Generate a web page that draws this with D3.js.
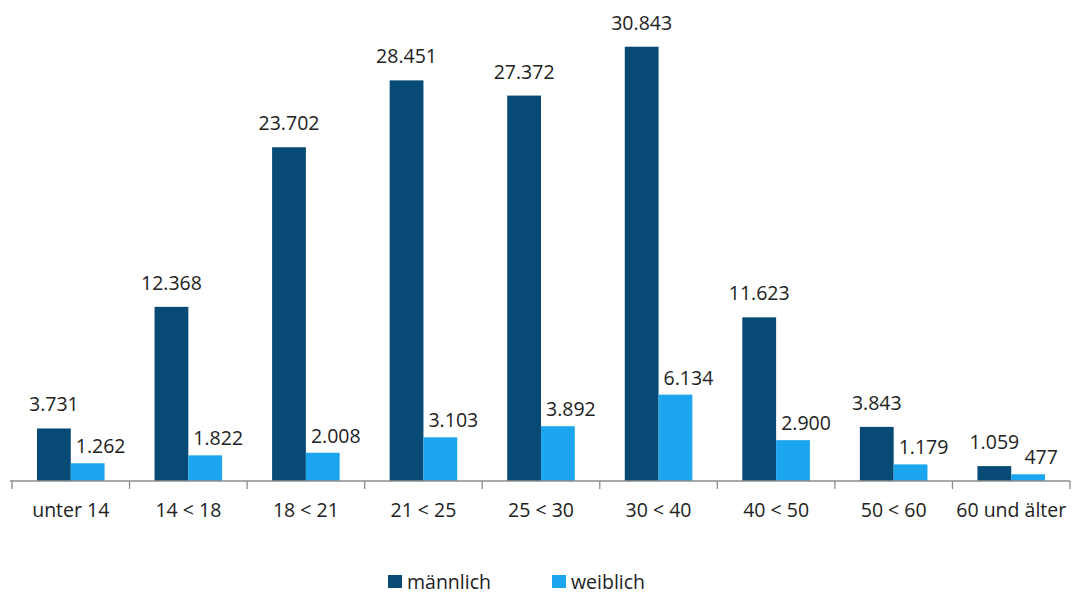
<!DOCTYPE html>
<html><head><meta charset="utf-8">
<script src="https://cdn.jsdelivr.net/npm/d3@7"></script>
<style>
body{margin:0;background:#fff;}
text{font-family:"Open Sans","Noto Sans",sans-serif;fill:#222;}
</style></head>
<body><svg id="c" width="1074" height="594"></svg>
<script>
const categories = ["unter 14","14 < 18","18 < 21","21 < 25","25 < 30","30 < 40","40 < 50","50 < 60","60 und älter"];
const seriesNames = ["männlich","weiblich"];
const maennlich = [3731,12368,23702,28451,27372,30843,11623,3843,1059];
const weiblich = [1262,1822,2008,3103,3892,6134,2900,1179,477];
const colors = ["#074a75","#1ba6ef"];

const fmt = v => d3.format(",")(v).replace(/,/g,".");
const svg = d3.select("#c");
const base = 481;
const x = d3.scaleBand().domain(categories).range([12,1070]).padding(0);
const bw = x.bandwidth();
const xs = d3.scaleBand().domain(seriesNames).range([25, bw-25]).padding(0);
const y = d3.scaleLinear().domain([0, d3.max(maennlich)]).range([base, 46.7]);

const data = categories.map((c,i)=>({c, vals:[maennlich[i], weiblich[i]]}));

const g = svg.append("g");
data.forEach(d=>{
  d.vals.forEach((v,j)=>{
    const bx = x(d.c)+xs(seriesNames[j]);
    g.append("rect").attr("x",bx).attr("y",y(v)).attr("width",xs.bandwidth()).attr("height",base-y(v)).attr("fill",colors[j]);
    g.append("text").attr("x",bx+xs.bandwidth()/2+(j===1?13:0)).attr("y",y(v)-(j===0?17:10))
      .attr("text-anchor","middle").attr("font-size",19.5).text(fmt(v));
  });
});

// axis
const ax = svg.append("g").attr("transform",`translate(0,${base})`)
  .call(d3.axisBottom(x).tickSize(0).tickPadding(20));
ax.select(".domain").remove();
ax.selectAll("text").attr("font-size",19.5).style("fill","#222").attr("dy","0.71em").attr("y",22);
svg.append("line").attr("x1",10).attr("x2",1070).attr("y1",base).attr("y2",base).attr("stroke","#8c8c8c").attr("stroke-width",1.3);
const edges = categories.map(c=>x(c)).concat([x.range()[1]]);
svg.selectAll(".tk").data(edges).enter().append("line")
  .attr("x1",d=>d).attr("x2",d=>d).attr("y1",base).attr("y2",base+8).attr("stroke","#8c8c8c").attr("stroke-width",1.3);

// legend
const legX = [388, 552];
seriesNames.forEach((s,j)=>{
  svg.append("rect").attr("x",legX[j]).attr("y",575).attr("width",14).attr("height",13).attr("fill",colors[j]);
  svg.append("text").attr("x",legX[j]+19).attr("y",589).attr("font-size",19.5).text(s);
});
</script></body></html>
